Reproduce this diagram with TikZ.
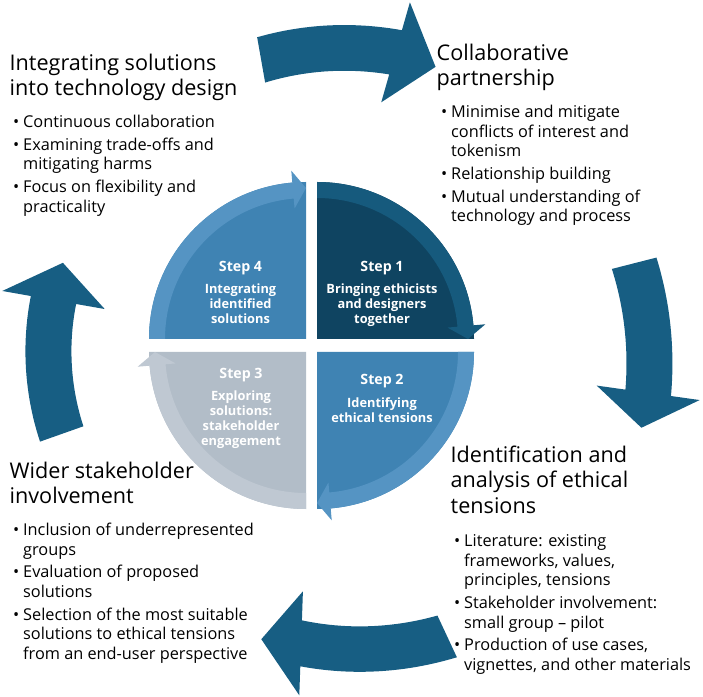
\documentclass[tikz,border=0pt]{standalone}
\usepackage{fontspec}
\setmainfont{Open Sans}
\usetikzlibrary{positioning}
\definecolor{cycBlue}{HTML}{175E83}
\definecolor{stepNavy}{HTML}{0F4461}
\definecolor{stepNavyRing}{HTML}{165A7D}
\definecolor{stepBlue}{HTML}{3F83B3}
\definecolor{stepBlueRing}{HTML}{5594C3}
\definecolor{stepGrey}{HTML}{B2BDC8}
\definecolor{stepGreyRing}{HTML}{BFC8D2}
\newcommand{\dotb}{\textbullet}
% curved block arrow round the wheel: tail angle, head angle, tip angle, tail radius, head radius
\newcommand{\bigarrow}[5]{%
  \fill[cycBlue] plot[domain=#1:#2, samples=25] (\x:{#4+(#5-#4)*(\x-#1)/(#2-#1)+23})
    -- (#2:#5+52) -- (#3:#5) -- (#2:#5-52)
    -- plot[domain=#2:#1, samples=25] (\x:{#4+(#5-#4)*(\x-#1)/(#2-#1)-23}) -- cycle;}
% one quarter of the wheel: corner, start angle, fill, ring
\newcommand{\quadrant}[4]{%
  \begin{scope}[shift={#1}]
    \fill[#3] (0,0) -- (#2:157) arc[start angle=#2, end angle=#2-90, radius=157pt] -- cycle;
    \fill[#4] (#2:157) arc[start angle=#2, end angle=#2-85, radius=157pt]
      -- (#2-85:169) -- (#2-90:151) -- (#2-85:131) -- (#2-85:141)
      arc[start angle=#2-85, end angle=#2, radius=141pt] -- cycle;
  \end{scope}}

\begin{document}
\begin{tikzpicture}[x=1pt, y=1pt,
  heading/.style={anchor=north west, inner sep=0pt, align=left,
                  font=\fontsize{21.6}{25.5}\selectfont},
  blist/.style={anchor=north west, inner sep=0pt,
                font=\fontsize{16.3}{19.4}\selectfont},
  steptitle/.style={inner sep=0pt, text=white, font=\bfseries\fontsize{14.2}{16}\selectfont},
  steptext/.style={inner sep=0pt, text=white, align=center,
                   font=\bfseries\fontsize{12.8}{15}\selectfont},
]
\useasboundingbox (0,0) rectangle (703,696);

% wheel and outer arrows
\begin{scope}[shift={(311.5,350.5)}]
  \bigarrow{100}{74}{66}{290}{305}
  \bigarrow{14.3}{-8}{-14}{333}{340}
  \bigarrow{-65}{-92}{-99.7}{321}{298}
  \bigarrow{199.5}{170}{161.6}{265}{262}
  \quadrant{(5.5,6.5)}{90}{stepNavy}{stepNavyRing}
  \quadrant{(5.5,-6.5)}{0}{stepBlue}{stepBlueRing}
  \quadrant{(-5.5,-6.5)}{270}{stepGrey}{stepGreyRing}
  \quadrant{(-5.5,6.5)}{180}{stepBlue}{stepBlueRing}
\end{scope}

\node[steptitle] (s1) at (382,428) {Step 1};
\node[steptext, below=9pt of s1] (s1txt) {Bringing ethicists\\and designers\\together};
\node[steptitle] (s2) at (382,315) {Step 2};
\node[steptext, below=9pt of s2] (s2txt) {Identifying\\ethical tensions};
\node[steptitle] (s3) at (241,321) {Step 3};
\node[steptext, below=9pt of s3] (s3txt) {Exploring\\solutions:\\stakeholder\\engagement};
\node[steptitle] (s4) at (240.5,428) {Step 4};
\node[steptext, below=9pt of s4] (s4txt) {Integrating\\identified\\solutions};

\node[heading] (tlHead) at (9.5,642.4) {Integrating solutions\\into technology design\strut};
\node[blist] (tlList) at ([xshift=3.5pt, yshift=-10.3pt]tlHead.south west)
  {\begin{tabular}{@{}p{10pt}@{}l@{}}
   \dotb & Continuous collaboration\\[3.5pt]
   \dotb & Examining trade-offs and\\ & mitigating harms\\[3.5pt]
   \dotb & Focus on flexibility and\\ & practicality
   \end{tabular}};

\node[heading] (trHead) at (436.5,652.4) {Collaborative\\partnership\strut};
\node[blist] (trList) at ([xshift=4.5pt, yshift=-10.3pt]trHead.south west)
  {\begin{tabular}{@{}p{10pt}@{}l@{}}
   \dotb & Minimise and mitigate\\ & conflicts of interest and\\ & tokenism\\[3.5pt]
   \dotb & Relationship building\\[3.5pt]
   \dotb & Mutual understanding of\\ & technology and process
   \end{tabular}};

\node[heading] (blHead) at (9.5,234.4) {Wider stakeholder\\involvement\strut};
\node[blist] (blList) at ([xshift=3.5pt, yshift=-10.3pt]blHead.south west)
  {\begin{tabular}{@{}p{10pt}@{}l@{}}
   \dotb & Inclusion of underrepresented\\ & groups\\[3.5pt]
   \dotb & Evaluation of proposed\\ & solutions\\[3.5pt]
   \dotb & Selection of the most suitable\\ & solutions to ethical tensions\\ & from an end-user perspective
   \end{tabular}};

\node[heading] (brHead) at (450.5,250.4) {Identification and\\analysis of ethical\\tensions\strut};
\node[blist] (brList) at ([xshift=3.5pt, yshift=-12pt]brHead.south west)
  {\begin{tabular}{@{}p{10pt}@{}l@{}}
   \dotb & Literature: existing\\ & frameworks, values,\\ & principles, tensions\\[3.5pt]
   \dotb & Stakeholder involvement:\\ & small group -- pilot\\[3.5pt]
   \dotb & Production of use cases,\\ & vignettes, and other materials
   \end{tabular}};
\end{tikzpicture}
\end{document}
